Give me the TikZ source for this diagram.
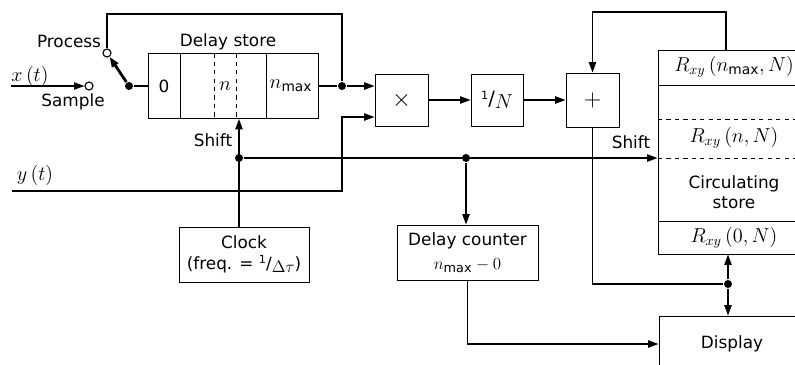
\documentclass[tikz,border=0pt]{standalone}
\usepackage{fontspec}
\setmainfont{DejaVu Sans}
\usetikzlibrary{arrows.meta}
\newcommand{\slfrac}[2]{\raisebox{0.6ex}{\footnotesize#1}/\raisebox{-0.3ex}{#2}}
\begin{document}
\begin{tikzpicture}[x=0.25mm, y=-0.25mm, line width=1.1pt,
    font=\fontsize{12}{14.5}\selectfont,
    every node/.style={inner sep=0pt},
    box/.style={draw, rectangle, line width=0.6pt, align=center},
    dot/.style={circle, fill, minimum size=2mm},
    port/.style={circle, draw, line width=0.8pt, fill=white, minimum size=2mm},
    mathlbl/.style={font=\fontsize{14}{16}\selectfont},
    arr/.style={-{Triangle[length=2.6mm, width=1.8mm]}}]
    \useasboundingbox (0,0) rectangle (795,364);
    \clip (0,0) rectangle (795,364);

    % Nodes
    \node[box, minimum width=42.5mm, minimum height=16.25mm] (store) at (233,86) {};
    \node[port] (proc) at (107,53) {};
    \node[port] (samp) at (89,86) {};
    \node[dot] (pivot) at (129,86) {};
    \node[dot] (split) at (342,86) {};
    \node[box, minimum width=13.25mm, minimum height=13mm] (mul) at (401.5,100) {\LARGE$\times$};
    \node[box, minimum width=13mm, minimum height=13mm, mathlbl] (norm) at (497,100) {\slfrac{1}{$N$}};
    \node[box, minimum width=13.25mm, minimum height=13.5mm] (sum) at (592.5,100) {\LARGE$+$};
    \node[box, minimum width=38mm, minimum height=51mm] (circ) at (734,152) {};
    \node[box, minimum width=32.5mm, minimum height=13.75mm] (clock) at (244,254.5) {Clock\\(freq. = \slfrac{1}{$\Delta\tau$})};
    \node[box, minimum width=35.25mm, minimum height=13.75mm] (dcount) at (467.5,252.5) {Delay counter\\[3pt]{\fontsize{13}{15}\selectfont$n_{\mathrm{max}}-0$}};
    \node[box, minimum width=36.5mm, minimum height=14mm] (disp) at (732,344) {Display};
    \node[dot] (sdot) at (239,158) {};
    \node[dot] (cdot) at (466,158) {};
    \node[dot] (odot) at (728,284) {};
    \coordinate (xin) at (11,86);
    \coordinate (yin) at (12,191);
    \coordinate (ycorner) at (342,117);
    \coordinate (fbleft) at (107,14);
    \coordinate (ctap) at (726,50);
    \coordinate (fbright) at (592.5,12);

    % Store cells
    \draw[line width=0.6pt] (180,53.3) -- (180,118.7);
    \draw[line width=0.6pt] (266,53.3) -- (266,118.7);
    \draw[line width=0.6pt, dashed] (214,53.3) -- (214,118.7);
    \draw[line width=0.6pt, dashed] (236,53.3) -- (236,118.7);
    \draw[line width=0.6pt] (658,85) -- (810,85);
    \draw[line width=0.6pt, dashed] (658,119) -- (810,119);
    \draw[line width=0.6pt, dashed] (658,158) -- (810,158);
    \draw[line width=0.6pt] (658,221) -- (810,221);

    % Edges
    \draw[arr] (xin) -- (samp);
    \draw[arr, line width=2pt] (pivot) -- (proc);
    \draw (pivot) -- (store.west);
    \draw (store.east) -- (split);
    \draw[arr] (split) -- (mul.west |- split);
    \draw (split) |- (fbleft) -- (proc);
    \draw[arr] (yin) -| (ycorner) -- (mul.west |- ycorner);
    \draw[arr] (mul) -- (norm);
    \draw[arr] (norm) -- (sum);
    \draw[arr] (ctap) |- (fbright) -- (sum.north);
    \draw[arr] (clock.north -| sdot) -- (store.south -| sdot);
    \draw[arr] (sdot) -- (circ.west |- sdot);
    \draw[arr] (cdot) -- (dcount.north -| cdot);
    \draw (sum.south) |- (odot);
    \draw[arr] (odot) -- (circ.south -| odot);
    \draw[arr] (odot) -- (disp.north -| odot);
    \draw[arr] (dcount.south) |- (disp.west);

    % Labels
    \node at (164,86) {0};
    \node[mathlbl] at (225,86) {$n$};
    \node[mathlbl] at (291,86) {$n_{\mathrm{max}}$};
    \node at (228,42) {Delay store};
    \node at (69,41) {Process};
    \node at (73,102) {Sample};
    \node[mathlbl] at (30,76) {$x\,(t)$};
    \node[mathlbl] at (35,175) {$y\,(t)$};
    \node at (213,140) {Shift};
    \node at (631,142) {Shift};
    \node[mathlbl] at (734,67) {$R_{xy}\,(n_{\mathrm{max}},N)$};
    \node[mathlbl] at (734,138) {$R_{xy}\,(n,N)$};
    \node[align=center] at (734,192) {Circulating\\store};
    \node[mathlbl] at (734,238) {$R_{xy}\,(0,N)$};
\end{tikzpicture}
\end{document}
